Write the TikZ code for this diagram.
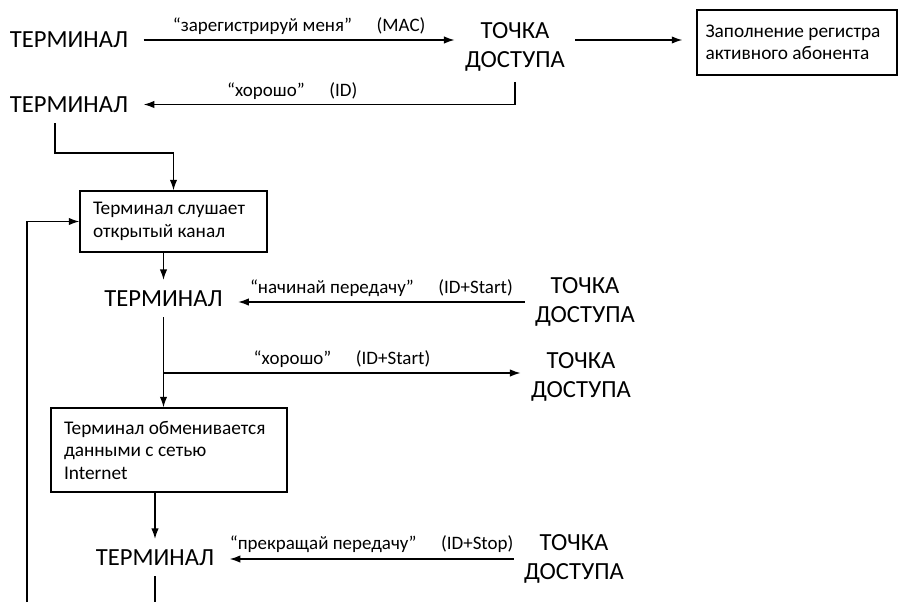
\documentclass[tikz,border=0pt]{standalone}
\usepackage{fontspec}
\setmainfont{Carlito}
\usetikzlibrary{positioning, calc, arrows.meta}

\begin{document}
\begin{tikzpicture}[
  >={Latex[length=6pt, width=4.2pt]}, line width=0.75pt,
  term/.style = {inner xsep=0.3cm, inner ysep=0.2cm, text height=9pt, text depth=0pt,
                 font=\fontsize{14}{16.2}\selectfont},
  ap/.style   = {align=center, inner xsep=0.2cm, inner ysep=0.2cm,
                 font=\fontsize{14}{16.2}\selectfont},
  box/.style  = {draw, rectangle, align=flush left, inner xsep=0.26cm, inner ysep=3pt,
                 font=\fontsize{11}{12.8}\selectfont},
  msg/.style  = {above, inner sep=2.5pt, font=\fontsize{10.8}{12.8}\selectfont},
]
  \useasboundingbox (0,0) rectangle (17.96,-12.04);

  % ── registration ──────────────────────────────────────────────────────
  \node[term] (term1) at (1.38,-0.80)  {ТЕРМИНАЛ};
  \node[ap]   (ap1)   at (10.30,-0.94) {ТОЧКА\\ДОСТУПА};
  \node[box, text width=3.66cm, inner xsep=0.17cm, minimum height=1.3cm] (reg) at (15.94,-0.85)
        {Заполнение регистра\\активного абонента};

  \draw[->] (term1.east) -- node[msg, inner sep=3pt]{“зарегистрируй меня”\hspace{1.3em}(MAC)} (term1.east -| ap1.west);
  \draw[->, shorten >=0.28cm] (term1.east -| ap1.east) -- (term1.east -| reg.west);

  \node[term] (term2) at (1.38,-2.09) {ТЕРМИНАЛ};
  \draw[->] (ap1.south) |- node[msg, pos=0.8]{“хорошо”\hspace{1.3em}(ID)} (term2.east);

  % ── listening on the open channel ─────────────────────────────────────
  \node[box, text width=3.22cm, minimum height=1.22cm] (box1) at (3.47,-4.43)
        {Терминал слушает\\открытый канал};
  \draw[->] ($(term2.south)+(-0.28,0)$) -- ++(0,-0.6) -| (box1.north);

  \node[term] (term3) at (3.27,-5.97)  {ТЕРМИНАЛ};
  \node[ap]   (ap2)   at (11.70,-6.04) {ТОЧКА\\ДОСТУПА};
  \draw[->] (box1.south -| term3.north) -- (term3.north);
  \draw[->] (ap2.west) -- node[msg]{“начинай передачу”\hspace{1.3em}(ID+Start)} (ap2.west -| term3.east);

  \node[ap] (ap3) at (11.62,-7.54) {ТОЧКА\\ДОСТУПА};
  \coordinate (br3) at ([yshift=0.08cm]ap3.west);
  \draw[->] (term3.south |- br3) -- node[msg]{“хорошо”\hspace{1.3em}(ID+Start)} (br3);

  % ── data exchange ─────────────────────────────────────────────────────
  \node[box, text width=4.2cm, minimum height=1.68cm] (box2) at (3.38,-9.00)
        {Терминал обменивается\\данными с сетью\\Internet};
  \draw[->] (term3.south) -- (term3.south |- box2.north);

  \node[term] (term4) at (3.10,-11.15)  {ТЕРМИНАЛ};
  \node[ap]   (ap4)   at (11.48,-11.18) {ТОЧКА\\ДОСТУПА};
  \draw[->] (box2.south -| term4.north) -- (term4.north);
  \draw[->] (ap4.west) -- node[msg, inner sep=3.5pt]{“прекращай передачу”\hspace{1.3em}(ID+Stop)} (ap4.west -| term4.east);

  % ── back to listening ─────────────────────────────────────────────────
  \coordinate (fbk) at (0.54,-12.04);
  \draw (term4.south) -- (term4.south |- fbk);
  \draw[->] (fbk) |- (box1.west);

\end{tikzpicture}
\end{document}
